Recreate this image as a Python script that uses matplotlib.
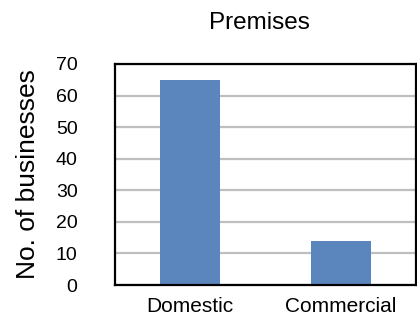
import matplotlib
matplotlib.use("Agg")
import matplotlib.pyplot as plt

categories = ["Domestic", "Commercial"]
values = [65, 14]
yticks = [0, 10, 20, 30, 40, 50, 60, 70]
title = "Premises"
ylabel = "No. of businesses"

plt.rcParams['font.family'] = ['Liberation Sans', 'DejaVu Sans']

fig = plt.figure(figsize=(4.17, 3.24), dpi=100)
ax = fig.add_axes([115/417, 1-285/324, 301/417, (285-64)/324])

x = list(range(len(categories)))
ax.bar(x, values, width=0.4, color='#5B86BD', zorder=2)
ax.set_xlim(-0.5, 1.5)
ax.set_ylim(0, 70)
ax.set_yticks(yticks)
ax.set_xticks(x)
ax.set_xticklabels(categories)
ax.yaxis.grid(True, color='#BFBFBF', linewidth=1.6, zorder=1)
ax.set_axisbelow(True)
for s in ax.spines.values():
    s.set_linewidth(1.6)
    s.set_color('black')
ax.tick_params(axis='y', length=0, pad=27, labelsize=14)
ax.tick_params(axis='x', length=0, pad=9, labelsize=15)
for lbl in ax.get_yticklabels():
    lbl.set_horizontalalignment('right')
ax.set_title(title, fontsize=17.5, pad=25, x=0.48)
ax.set_ylabel(ylabel, fontsize=19, labelpad=11)

fig.savefig("out.png", dpi=100)
